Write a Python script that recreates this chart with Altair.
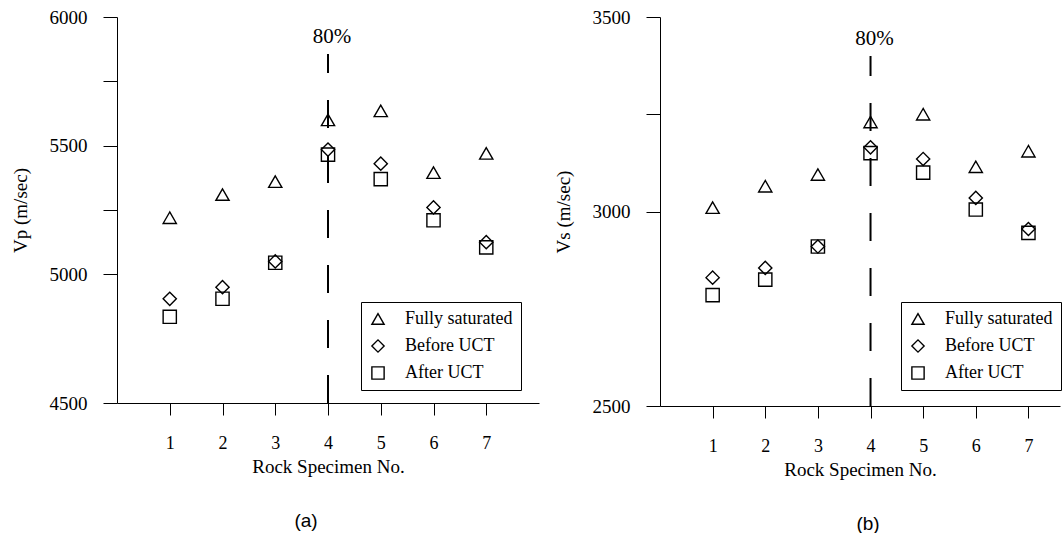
import altair as alt
import pandas as pd

# ---------------- data ----------------
specimen = [1, 2, 3, 4, 5, 6, 7]
series_names = ["Fully saturated", "Before UCT", "After UCT"]
series_shapes = ["triangle-up", "diamond", "square"]

vp_saturated = [5220, 5310, 5360, 5600, 5635, 5395, 5470]
vp_before = [4905, 4950, 5050, 5485, 5430, 5260, 5125]
vp_after = [4835, 4905, 5045, 5465, 5370, 5210, 5105]

vs_saturated = [3010, 3065, 3095, 3230, 3250, 3115, 3155]
vs_before = [2830, 2855, 2910, 3165, 3135, 3035, 2955]
vs_after = [2785, 2825, 2910, 3150, 3100, 3005, 2945]

vp_ticks = [4500, 5000, 5250, 5500, 5750, 6000]
vs_ticks = [2500, 3000, 3250, 3500]

line_x = 4
line_label = "80%"
vp_line_top = 5856
vs_line_top = 3400

SERIF = "Liberation Serif"
SANS = "Liberation Sans"


def long_df(vals_list):
    rows = []
    for name, vals in zip(series_names, vals_list):
        for s, v in zip(specimen, vals):
            rows.append({"specimen": s, "value": v, "series": name})
    return pd.DataFrame(rows)


def panel(df, ydomain, yvalues, ytitle, line_top, xmax, width, height,
          legend_x, legend_y, caption, caption_dx):
    x = alt.X("specimen:Q",
              scale=alt.Scale(domain=[0, xmax], nice=False, zero=True),
              axis=alt.Axis(values=specimen, title="Rock Specimen No.",
                            tickSize=12, labelPadding=19, titlePadding=5,
                            labelFontSize=18, titleFontSize=19,
                            format="d"))
    y = alt.Y("value:Q",
              scale=alt.Scale(domain=ydomain, nice=False, zero=False),
              axis=alt.Axis(values=yvalues, format="d", title=ytitle,
                            labelExpr="datum.value % 500 == 0 ? datum.label : ''",
                            labelFontSize=19, titleFontSize=19,
                            tickSize=14, labelPadding=16, titlePadding=19))
    points = alt.Chart(df).mark_point(
        filled=False, strokeWidth=1.4, color="black", size=175, opacity=1
    ).encode(
        x=x, y=y,
        shape=alt.Shape("series:N",
                        scale=alt.Scale(domain=series_names, range=series_shapes),
                        legend=alt.Legend(
                            title=None, orient="none",
                            legendX=legend_x, legendY=legend_y,
                            strokeColor="black", fillColor="white",
                            padding=8, rowPadding=9,
                            labelFont=SERIF, labelFontSize=18, labelColor="black",
                            labelOffset=18,
                            symbolStrokeColor="black", symbolFillColor="white",
                            symbolSize=150, symbolStrokeWidth=1.4)),
    )
    line_df = pd.DataFrame({"specimen": [line_x], "value": [ydomain[0]],
                            "value2": [line_top], "label": [line_label]})
    rule = alt.Chart(line_df).mark_rule(
        strokeDash=[28, 27], strokeWidth=2, color="black"
    ).encode(x=x, y=y, y2="value2:Q")
    text = alt.Chart(line_df).mark_text(
        font=SERIF, fontSize=21, dy=-17, dx=4, baseline="middle", color="black"
    ).encode(x=x, y=alt.Y("value2:Q"), text="label:N")
    return alt.layer(points, rule, text).properties(
        width=width, height=height,
        title=alt.TitleParams(caption, orient="bottom", font=SANS, fontSize=19,
                              fontWeight="normal", color="black",
                              dx=caption_dx, offset=36),
    )


left = panel(long_df([vp_saturated, vp_before, vp_after]), [4500, 6000], vp_ticks,
             "Vp (m/sec)", vp_line_top, 8, 422, 386, 244, 285, "(a)", -22)
right = panel(long_df([vs_saturated, vs_before, vs_after]), [2500, 3500], vs_ticks,
              "Vs (m/sec)", vs_line_top, 7.6, 400, 389, 241, 285, "(b)", 8)

chart = alt.hconcat(left, right, spacing=15).resolve_scale(
    x="independent", y="independent", shape="independent"
).resolve_legend(shape="independent").properties(
    padding={"left": 11, "top": 8, "right": 0, "bottom": 0},
    background="white",
).configure_view(stroke=None).configure_axis(
    grid=False, domainColor="black", tickColor="black", domainWidth=1,
    labelFont=SERIF, labelColor="black",
    titleFont=SERIF, titleFontWeight="normal", titleColor="black",
)

chart.save("out.html", embed_options={"renderer": "svg", "actions": False})
